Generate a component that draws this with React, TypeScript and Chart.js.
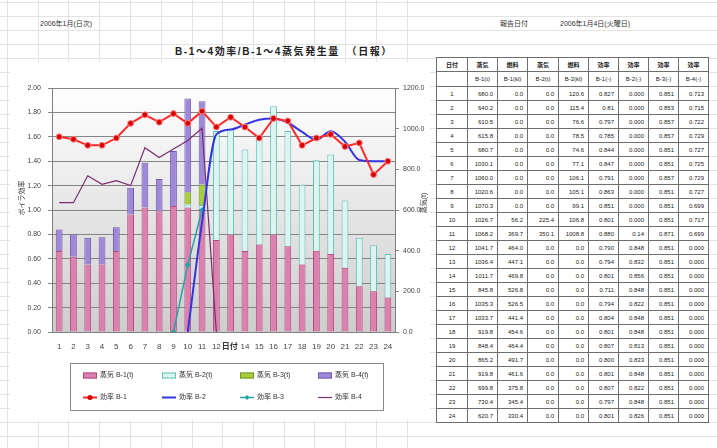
import React, { useEffect, useRef } from 'react';
import { Chart, registerables } from 'chart.js';

Chart.register(...registerables);

// ---------------- chart data ----------------
const days = ['1','2','3','4','5','6','7','8','9','10','11','12','13','14','15','16','17','18','19','20','21','22','23','24'];

// steam amounts (bars, right axis)
const steamB1 = [398, 370, 332, 332, 398, 578, 612, 594, 620, 612, 605, 452, 480, 398, 430, 480, 422, 332, 400, 384, 316, 225, 200, 170];
const steamB2 = [0, 0, 0, 0, 0, 0, 0, 0, 0, 15, 20, 536, 516, 500, 516, 630, 566, 393, 445, 489, 331, 238, 227, 214];
const steamB3 = [0, 0, 0, 0, 0, 0, 0, 0, 0, 60, 100, 0, 0, 0, 0, 0, 0, 0, 0, 0, 0, 0, 0, 0];
const steamB4 = [106, 110, 131, 134, 117, 131, 220, 159, 270, 461, 410, 0, 0, 0, 0, 0, 0, 0, 0, 0, 0, 0, 0, 0];

// efficiencies (lines, left axis)
const effB1 = [1.60, 1.58, 1.53, 1.53, 1.59, 1.71, 1.78, 1.72, 1.79, 1.71, 1.81, 1.68, 1.76, 1.68, 1.59, 1.75, 1.73, 1.53, 1.59, 1.62, 1.52, 1.55, 1.29, 1.40];
const effB2 = [null, null, null, null, null, null, null, null, null, 0, 0.90, 1.62, 1.66, 1.70, 1.74, 1.75, 1.715, 1.64, 1.575, 1.645, 1.56, 1.41, 1.40, 1.40];
const effB3 = [null, null, null, null, null, null, null, null, 0, 0.55, 1.0, null, null, null, null, null, null, null, null, null, null, null, null, null];
const effB4 = [1.06, 1.06, 1.28, 1.21, 1.24, 1.20, 1.51, 1.43, 1.50, 1.57, 1.67, 0, null, null, null, null, null, null, null, null, null, null, null, null];

const barLabels = ['蒸気 B-1(t)', '蒸気 B-2(t)', '蒸気 B-3(t)', '蒸気 B-4(t)'];
const lineLabels = ['効率 B-1', '効率 B-2', '効率 B-3', '効率 B-4'];

// ---------------- table data ----------------
const tableHead1 = ['日付', '蒸気', '燃料', '蒸気', '燃料', '効率', '効率', '効率', '効率'];
const tableHead2 = ['', 'B-1(t)', 'B-1(kl)', 'B-2(t)', 'B-2(kl)', 'B-1(-)', 'B-2(-)', 'B-3(-)', 'B-4(-)'];
const colSteamB1 = ['680.0','640.2','610.5','615.8','680.7','1030.1','1060.0','1020.6','1070.3','1026.7','1068.2','1041.7','1036.4','1011.7','845.8','1035.3','1033.7','919.8','848.4','865.2','919.8','699.8','730.4','620.7'];
const colFuelB1 = ['0.0','0.0','0.0','0.0','0.0','0.0','0.0','0.0','0.0','56.2','369.7','464.0','447.1','469.8','526.8','526.5','441.4','454.6','464.4','491.7','461.6','375.8','345.4','330.4'];
const colSteamB2 = ['0.0','0.0','0.0','0.0','0.0','0.0','0.0','0.0','0.0','225.4','350.1','0.0','0.0','0.0','0.0','0.0','0.0','0.0','0.0','0.0','0.0','0.0','0.0','0.0'];
const colFuelB2 = ['120.6','115.4','76.6','78.5','74.6','77.1','106.1','105.1','99.1','106.8','1008.8','0.0','0.0','0.0','0.0','0.0','0.0','0.0','0.0','0.0','0.0','0.0','0.0','0.0'];
const colEffB1 = ['0.827','0.81','0.797','0.785','0.844','0.847','0.791','0.863','0.851','0.801','0.880','0.790','0.794','0.801','0.711','0.794','0.804','0.801','0.807','0.800','0.801','0.807','0.797','0.801'];
const colEffB2 = ['0.000','0.000','0.000','0.000','0.000','0.000','0.000','0.000','0.000','0.000','0.14','0.848','0.832','0.856','0.848','0.822','0.848','0.848','0.813','0.833','0.848','0.822','0.848','0.826'];
const colEffB3 = ['0.851','0.853','0.857','0.857','0.851','0.851','0.857','0.851','0.851','0.851','0.871','0.851','0.851','0.851','0.851','0.851','0.851','0.851','0.851','0.851','0.851','0.851','0.851','0.851'];
const colEffB4 = ['0.713','0.715','0.722','0.729','0.727','0.725','0.729','0.727','0.699','0.717','0.699','0.000','0.000','0.000','0.000','0.000','0.000','0.000','0.000','0.000','0.000','0.000','0.000','0.000'];

const FONT = "'Liberation Sans', 'Noto Sans CJK JP', sans-serif";

const decor = {
  id: 'decor',
  beforeDraw(chart: any) {
    const { ctx, chartArea: a, width, height } = chart;
    ctx.save();
    ctx.fillStyle = '#ffffff';
    ctx.fillRect(0, 0, width, height);
    const g = ctx.createLinearGradient(0, a.top, 0, a.bottom);
    g.addColorStop(0, '#ffffff');
    g.addColorStop(1, '#cdcdcd');
    ctx.fillStyle = g;
    ctx.fillRect(a.left, a.top, a.right - a.left, a.bottom - a.top);
    ctx.restore();
  },
  afterDraw(chart: any) {
    const { ctx, chartArea: a } = chart;
    ctx.save();
    // axis titles
    ctx.fillStyle = '#333';
    ctx.font = `7px ${FONT}`;
    ctx.textAlign = 'center';
    ctx.textBaseline = 'middle';
    ctx.save();
    ctx.translate(12, 136);
    ctx.rotate(-Math.PI / 2);
    ctx.fillText('ボイラ効率', 0, 0);
    ctx.restore();
    ctx.save();
    ctx.translate(414, 141);
    ctx.rotate(-Math.PI / 2);
    ctx.fillText('蒸気(t)', 0, 0);
    ctx.restore();
    // x-axis title overlapping label
    ctx.font = `bold 8px ${FONT}`;
    const tx = chart.scales.x.getPixelForValue(12) - 1;
    const ty = a.bottom + 15;
    const w = ctx.measureText('日付').width;
    ctx.fillStyle = '#ffffff';
    ctx.fillRect(tx - w / 2 - 1, ty - 5, w + 2, 10);
    ctx.fillStyle = '#333';
    ctx.fillText('日付', tx, ty);

    // legend
    const bx = 60.5, by = 301.5, bw = 313, bh = 47;
    ctx.strokeStyle = '#8a8a8a';
    ctx.lineWidth = 1;
    ctx.strokeRect(bx, by, bw, bh);
    ctx.font = `7px ${FONT}`;
    ctx.textAlign = 'left';
    const cols = [73, 152, 230, 308];
    chart.data.datasets.forEach((ds: any, i: number) => {
      const col = i % 4;
      const row = Math.floor(i / 4);
      const x0 = cols[col];
      const y = 313.5 + row * 22;
      if (ds.type === 'bar') {
        ctx.fillStyle = ds.backgroundColor;
        ctx.fillRect(x0, y - 3, 14, 6);
        ctx.strokeStyle = ds.borderColor;
        ctx.strokeRect(x0 + 0.5, y - 2.5, 13, 5);
      } else {
        ctx.strokeStyle = ds.borderColor;
        ctx.lineWidth = ds.borderWidth;
        ctx.beginPath();
        ctx.moveTo(x0, y);
        ctx.lineTo(x0 + 14, y);
        ctx.stroke();
        ctx.lineWidth = 1;
        if (ds.pointRadius > 0) {
          ctx.fillStyle = ds.pointBackgroundColor;
          ctx.beginPath();
          if (ds.pointStyle === 'rectRot') {
            ctx.moveTo(x0 + 7, y - 2.5);
            ctx.lineTo(x0 + 9.5, y);
            ctx.lineTo(x0 + 7, y + 2.5);
            ctx.lineTo(x0 + 4.5, y);
            ctx.closePath();
          } else {
            ctx.arc(x0 + 7, y, 2.5, 0, Math.PI * 2);
          }
          ctx.fill();
        }
      }
      ctx.fillStyle = '#333';
      ctx.fillText(ds.label, x0 + 17, y);
    });
    ctx.restore();
  },
};

function ChartBox() {
  const ref = useRef<HTMLCanvasElement | null>(null);
  useEffect(() => {
    if (!ref.current) return;
    const barCommon = { type: 'bar' as const, yAxisID: 'y1', stack: 's', order: 1, borderWidth: 1, barPercentage: 0.5, categoryPercentage: 0.95 };
    const chart = new Chart(ref.current, {
      type: 'bar',
      data: {
        labels: days,
        datasets: [
          { ...barCommon, label: barLabels[0], data: steamB1, backgroundColor: '#dc80ae', borderColor: '#b44a80' },
          { ...barCommon, label: barLabels[1], data: steamB2, backgroundColor: '#ddf5f1', borderColor: '#5cc2b9' },
          { ...barCommon, label: barLabels[2], data: steamB3, backgroundColor: '#a8cc3c', borderColor: '#6e9a22' },
          { ...barCommon, label: barLabels[3], data: steamB4, backgroundColor: '#a088d8', borderColor: '#7259b0' },
          { type: 'line', label: lineLabels[0], data: effB1, yAxisID: 'y', order: 0, borderColor: '#ff2a2a', borderWidth: 2, pointRadius: 3, pointBackgroundColor: '#d80000', pointBorderColor: '#ff8a8a', pointBorderWidth: 1, pointStyle: 'circle', tension: 0 },
          { type: 'line', label: lineLabels[1], data: effB2, yAxisID: 'y', order: 0, borderColor: '#3434e0', borderWidth: 2, pointRadius: 0, cubicInterpolationMode: 'monotone' },
          { type: 'line', label: lineLabels[2], data: effB3, yAxisID: 'y', order: 0, borderColor: '#27a3a3', borderWidth: 1.5, pointRadius: 2, pointStyle: 'rectRot', pointBackgroundColor: '#27a3a3', pointBorderColor: '#27a3a3', tension: 0 },
          { type: 'line', label: lineLabels[3], data: effB4, yAxisID: 'y', order: 0, borderColor: '#7a2d6e', borderWidth: 1.2, pointRadius: 0, tension: 0 },
        ] as any,
      },
      options: {
        animation: false,
        responsive: false,
        maintainAspectRatio: false,
        layout: { padding: { top: 26, left: 0, right: 0, bottom: 68 } },
        plugins: { legend: { display: false }, tooltip: { enabled: false }, title: { display: false } },
        scales: {
          x: {
            type: 'category',
            display: true,
            stacked: true,
            offset: true,
            grid: { display: false, drawTicks: false },
            border: { display: true, color: '#7f7f7f' },
            ticks: { display: true, font: { size: 8, family: FONT }, color: '#444', padding: 10, maxRotation: 0, autoSkip: false },
            afterFit: (s: any) => { s.height = 20; },
          },
          y: {
            position: 'left',
            min: 0,
            max: 2,
            ticks: { stepSize: 0.2, font: { size: 7, family: FONT }, color: '#444', padding: 7, callback: (v: any) => Number(v).toFixed(2) },
            grid: { color: '#858585', tickLength: 4 },
            border: { color: '#7f7f7f' },
            afterFit: (s: any) => { s.width = 42; },
          },
          y1: {
            position: 'right',
            stacked: true,
            min: 0,
            max: 1200,
            ticks: { stepSize: 200, font: { size: 7, family: FONT }, color: '#444', padding: 4, callback: (v: any) => Number(v).toFixed(1) },
            grid: { drawOnChartArea: false, color: '#858585', tickLength: 4 },
            border: { color: '#7f7f7f' },
            afterFit: (s: any) => { s.width = 35; },
          },
        },
      } as any,
      plugins: [decor],
    });
    return () => chart.destroy();
  }, []);
  return <canvas ref={ref} width={420} height={358} style={{ position: 'absolute', left: 10, top: 62, width: 420, height: 358 }} />;
}

const vLines = [7, 38, 68, 99, 130, 161, 192, 222, 253, 284, 314, 345, 376, 407];
const hLines = Array.from({ length: 33 }, (_, k) => 2 + 14 * k);

export default function App() {
  useEffect(() => {
    document.body.style.margin = '0';
    document.body.style.overflow = 'hidden';
  }, []);
  const cols = [colSteamB1, colFuelB1, colSteamB2, colFuelB2, colEffB1, colEffB2, colEffB3, colEffB4];
  const cellBase: React.CSSProperties = { border: '1px solid #6e6e6e', padding: 0, fontSize: 6, lineHeight: '6px', color: '#222', whiteSpace: 'nowrap', overflow: 'hidden' };
  const colW = [31, 30, 30, 31, 30, 30, 30, 30, 30];
  return (
    <div style={{ position: 'absolute', left: 0, top: 0, width: 717, height: 448, overflow: 'hidden', background: '#fff', fontFamily: FONT }}>
      {vLines.map((x) => (
        <div key={'v' + x} style={{ position: 'absolute', left: x, top: 0, width: 1, height: 448, background: '#e3e3e3' }} />
      ))}
      {hLines.map((y) => (
        <div key={'h' + y} style={{ position: 'absolute', left: 0, top: y, width: 717, height: 1, background: '#e3e3e3' }} />
      ))}
      <div style={{ position: 'absolute', left: 40, top: 18, fontSize: 7, color: '#333' }}>2006年1月(日次)</div>
      <div style={{ position: 'absolute', left: 500, top: 18, fontSize: 7, color: '#333' }}>報告日付</div>
      <div style={{ position: 'absolute', left: 560, top: 18, fontSize: 7, color: '#333' }}>2006年1月4日(火曜日)</div>
      <div style={{ position: 'absolute', left: 175, top: 43, fontSize: 10, fontWeight: 'bold', color: '#222', letterSpacing: 1.6, whiteSpace: 'nowrap' }}>B-1～4効率/B-1～4蒸気発生量　（日報）</div>
      <ChartBox />
      <table style={{ position: 'absolute', left: 436, top: 57, borderCollapse: 'collapse', tableLayout: 'fixed', background: '#fff' }}>
        <colgroup>
          {colW.map((w, i) => <col key={i} style={{ width: w }} />)}
        </colgroup>
        <tbody>
          <tr style={{ height: 14 }}>
            {tableHead1.map((t, i) => <td key={i} style={{ ...cellBase, textAlign: 'center', fontWeight: 'bold' }}>{t}</td>)}
          </tr>
          <tr style={{ height: 15 }}>
            {tableHead2.map((t, i) => <td key={i} style={{ ...cellBase, textAlign: 'center' }}>{t}</td>)}
          </tr>
          {days.map((d, r) => (
            <tr key={d} style={{ height: 14 }}>
              <td style={{ ...cellBase, textAlign: 'center' }}>{d}</td>
              {cols.map((c, ci) => (
                <td key={ci} style={{ ...cellBase, textAlign: 'right', paddingRight: 4 }}>{c[r]}</td>
              ))}
            </tr>
          ))}
        </tbody>
      </table>
    </div>
  );
}
